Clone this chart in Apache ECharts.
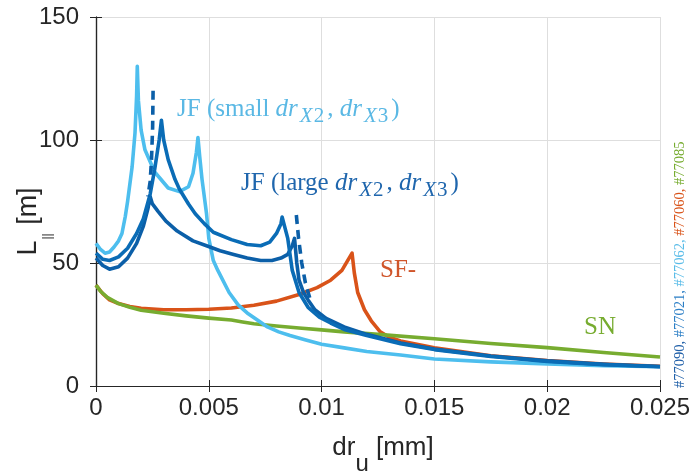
<!DOCTYPE html>
<html><head><meta charset="utf-8">
<script src="https://cdn.jsdelivr.net/npm/echarts@6/dist/echarts.min.js"></script>
<style>html,body{margin:0;padding:0;background:#fff}#c{width:690px;height:476px}</style>
</head><body><div id="c"></div>
<script>
// ---- data (dr_u [mm], L_|| [m]) ----
const xTicks = [0, 0.005, 0.01, 0.015, 0.02, 0.025];
const yTicks = [0, 50, 100, 150];

const jfSmall77062 = [[0,58],[0.0002,55.5],[0.0004,54],[0.0006,54.5],[0.0008,56.5],[0.001,59],[0.00115,62],[0.0013,69],[0.0014,75],[0.0016,89],[0.00173,103],[0.0018,118],[0.00183,130],[0.00188,116],[0.002,104],[0.00217,96],[0.0026,87],[0.0032,80.5],[0.0037,79],[0.0041,81],[0.0043,86.5],[0.00445,95],[0.00452,101],[0.0046,93],[0.0047,84],[0.0049,70],[0.005,60],[0.0052,51],[0.0054,47],[0.0059,38],[0.0063,33],[0.0067,29.7],[0.0072,26.5],[0.0076,24],[0.0081,22],[0.0086,20.5],[0.0093,18.7],[0.01,17],[0.011,15.5],[0.012,14],[0.0135,12.6],[0.015,11],[0.0175,9.8],[0.02,9],[0.0225,8.3],[0.025,7.8]];

const jfLargeA = [[0,54],[0.0003,51.5],[0.0006,51],[0.001,52.5],[0.0014,56],[0.0018,62],[0.0021,68],[0.0024,78],[0.0026,88],[0.0028,100],[0.0029,108],[0.003,100],[0.0032,92],[0.0035,84],[0.0037,80],[0.0041,74],[0.0044,70],[0.0048,66],[0.0052,62.5],[0.006,59.5],[0.0067,57.5],[0.0073,57],[0.0077,58.5],[0.008,62],[0.0082,66],[0.00825,68.7],[0.0085,60],[0.0087,47],[0.009,38],[0.0094,32],[0.0099,28],[0.0104,25.6],[0.011,23],[0.012,20.5],[0.0135,17.2],[0.015,14.8],[0.0175,12],[0.02,10],[0.0225,8.7],[0.025,7.8]];

const jfLargeB = [[0,52],[0.0003,49],[0.0006,47.5],[0.001,48.5],[0.0014,52],[0.0018,58],[0.0021,65],[0.0023,72],[0.0024,77],[0.0025,74],[0.00275,71],[0.0031,67],[0.0036,63],[0.0043,59],[0.0049,57],[0.0055,55],[0.0061,53.5],[0.0067,52],[0.0073,51],[0.0078,51],[0.0082,52],[0.0085,53.5],[0.0087,57],[0.0088,60],[0.0089,50],[0.009,43],[0.0092,38],[0.0094,35],[0.0097,31],[0.0102,27.5],[0.011,24],[0.012,21],[0.0135,17.5],[0.015,15],[0.0175,12.2],[0.02,10.2],[0.0225,8.8],[0.025,7.9]];

const jfDash1 = [[0.00253,120],[0.00251,105],[0.00246,92],[0.0024,83],[0.0023,77]];
const jfDash2 = [[0.00888,69.5],[0.00898,60],[0.00912,50],[0.00928,42],[0.0095,35]];

const sfMinus77060 = [[0,41],[0.0003,37.5],[0.0006,35],[0.001,33.5],[0.0015,32.3],[0.002,31.6],[0.003,31],[0.004,31],[0.005,31.2],[0.006,31.7],[0.007,32.8],[0.008,34.5],[0.009,37.2],[0.0098,40],[0.0104,43],[0.0109,47],[0.01135,54],[0.01145,46],[0.0116,38],[0.0119,31],[0.0122,26.5],[0.0126,22],[0.013,19.8],[0.0135,18.3],[0.015,15.5],[0.0175,12.3],[0.02,10.3],[0.0225,8.9],[0.025,8]];

const sn77085 = [[0,41],[0.0002,38.5],[0.0005,36],[0.001,33.5],[0.0015,32],[0.002,30.8],[0.003,29.6],[0.004,28.5],[0.005,27.6],[0.006,26.8],[0.0065,26],[0.007,25.3],[0.008,24.4],[0.009,23.6],[0.01,22.8],[0.011,22],[0.0125,21],[0.015,19.2],[0.0175,17.3],[0.02,15.6],[0.0225,13.6],[0.025,11.8]];

// ---- styles ----
const C = { light:'#4DBEEE', blueA:'#0A6CB6', blueB:'#0B5FA8', orange:'#D95319', green:'#77AC30' };
const serif = 'Liberation Serif', sans = 'Liberation Sans', axisCol = '#262626';

function line(name, data, color, z, dashed){
  return { name, type:'line', data, showSymbol:false, symbol:'none', z, silent:true,
    lineStyle:{ color, width:3.6, type: dashed ? [9,6] : 'solid', cap:'butt', join:'round' } };
}

function jfRich(color){
  return {
    n:{ fontFamily:serif, fontSize:25, fill:color, verticalAlign:'bottom', lineHeight:30, padding:[0,0,5,0] },
    i:{ fontFamily:serif, fontSize:25, fontStyle:'italic', fill:color, verticalAlign:'bottom', lineHeight:30, padding:[0,0,5,0] },
    s:{ fontFamily:serif, fontSize:21, fontStyle:'italic', fill:color, verticalAlign:'bottom', lineHeight:30, padding:[0,1,0,2] },
    u:{ fontFamily:serif, fontSize:21, fill:color, verticalAlign:'bottom', lineHeight:30, padding:[0,3,0,0] }
  };
}

const chart = echarts.init(document.getElementById('c'), null, { renderer:'canvas' });
const fmt = v => String(parseFloat(v.toFixed(4)));
const xCommon = { type:'value', min:xTicks[0], max:xTicks[xTicks.length-1], interval:xTicks[1]-xTicks[0] };
const yCommon = { type:'value', min:yTicks[0], max:yTicks[yTicks.length-1], interval:yTicks[1]-yTicks[0] };

chart.setOption({
  animation:false,
  backgroundColor:'#fff',
  grid:{ left:96, right:30, top:17, bottom:90, outerBoundsMode:'none', containLabel:false },
  xAxis:[
    Object.assign({}, xCommon, {
      position:'bottom',
      axisLine:{ show:true, lineStyle:{ color:axisCol, width:1.2 } },
      axisTick:{ show:true, inside:true, length:6, lineStyle:{ color:axisCol } },
      splitLine:{ show:true, lineStyle:{ color:'#dedede', width:1 } },
      axisLabel:{ fontFamily:sans, fontSize:24, color:axisCol, margin:10, formatter:fmt, showMinLabel:true, showMaxLabel:true },
      name:'{n|dr}{s|u}{n| [mm]}', nameLocation:'middle', nameGap:46, nameMoveOverlap:false,
      nameTextStyle:{ padding:[0,0,0,10], rich:{
        n:{ fontFamily:sans, fontSize:26, color:axisCol, verticalAlign:'bottom', lineHeight:44, padding:[0,0,15,0] },
        s:{ fontFamily:sans, fontSize:24, color:axisCol, verticalAlign:'bottom', lineHeight:44, padding:[0,0,0,0] } } }
    }),
    Object.assign({}, xCommon, {
      position:'top',
      axisLine:{ show:true, lineStyle:{ color:axisCol, width:1.2 } },
      axisTick:{ show:true, inside:true, length:6, lineStyle:{ color:axisCol } },
      axisLabel:{ show:false }, splitLine:{ show:false }
    })
  ],
  yAxis:[
    Object.assign({}, yCommon, {
      position:'left',
      axisLine:{ show:true, lineStyle:{ color:axisCol, width:1.2 } },
      axisTick:{ show:true, inside:true, length:6, lineStyle:{ color:axisCol } },
      splitLine:{ show:true, lineStyle:{ color:'#dedede', width:1 } },
      axisLabel:{ fontFamily:sans, fontSize:24, color:axisCol, margin:17 },
      name:'{n|L}{s|||}{n| [m]}', nameLocation:'middle', nameGap:42, nameRotate:90, nameMoveOverlap:false,
      nameTextStyle:{ padding:[0,40,0,0], rich:{
        n:{ fontFamily:sans, fontSize:27, color:axisCol, verticalAlign:'bottom', lineHeight:46, padding:[0,0,12,0] },
        s:{ fontFamily:sans, fontSize:12, color:axisCol, verticalAlign:'bottom', lineHeight:46, padding:[0,1,0,1] } } }
    }),
    Object.assign({}, yCommon, {
      position:'right',
      axisLine:{ show:true, lineStyle:{ color:axisCol, width:1.2 } },
      axisTick:{ show:true, inside:true, length:6, lineStyle:{ color:axisCol } },
      axisLabel:{ show:false }, splitLine:{ show:false }
    })
  ],
  series:[
    line('#77060 SF-', sfMinus77060, C.orange, 2),
    line('#77085 SN', sn77085, C.green, 3),
    line('#77062 JF small', jfSmall77062, C.light, 4),
    line('#77021 JF large', jfLargeB, C.blueB, 5),
    line('#77090 JF large', jfLargeA, C.blueA, 6),
    line('JF large (dashed)', jfDash1, C.blueB, 7, true),
    line('JF large (dashed) 2', jfDash2, C.blueB, 7, true)
  ],
  graphic:[
    { type:'text', x:177, y:97, z:100, style:{ text:'{n|JF (small }{i|dr}{s|X}{u|2}{n|, }{i|dr}{s|X}{u|3}{n|)}', rich:jfRich('#5AB8E4'), verticalAlign:'top', align:'left' } },
    { type:'text', x:241, y:171, z:100, style:{ text:'{n|JF (large }{i|dr}{s|X}{u|2}{n|, }{i|dr}{s|X}{u|3}{n|)}', rich:jfRich('#1F66AD'), verticalAlign:'top', align:'left' } },
    { type:'text', x:380, y:270, z:100, style:{ text:'SF-', fontFamily:serif, fontSize:25, fill:'#D0552A', verticalAlign:'middle', align:'left' } },
    { type:'text', x:584, y:327, z:100, style:{ text:'SN', fontFamily:serif, fontSize:25, fill:'#77AC30', verticalAlign:'middle', align:'left' } },
    { type:'text', x:680, y:388, rotation:Math.PI/2, z:100, style:{
      text:'{a|#77090, }{b|#77021, }{c|#77062, }{d|#77060, }{e|#77085}',
      verticalAlign:'middle', align:'left',
      rich:{
        a:{ fontFamily:serif, fontSize:14.5, fill:'#1F5FA8' },
        b:{ fontFamily:serif, fontSize:14.5, fill:'#2C7FC6' },
        c:{ fontFamily:serif, fontSize:14.5, fill:'#5ABCE8' },
        d:{ fontFamily:serif, fontSize:14.5, fill:'#D95319' },
        e:{ fontFamily:serif, fontSize:14.5, fill:'#77AC30' }
      } } }
  ]
});
</script></body></html>
